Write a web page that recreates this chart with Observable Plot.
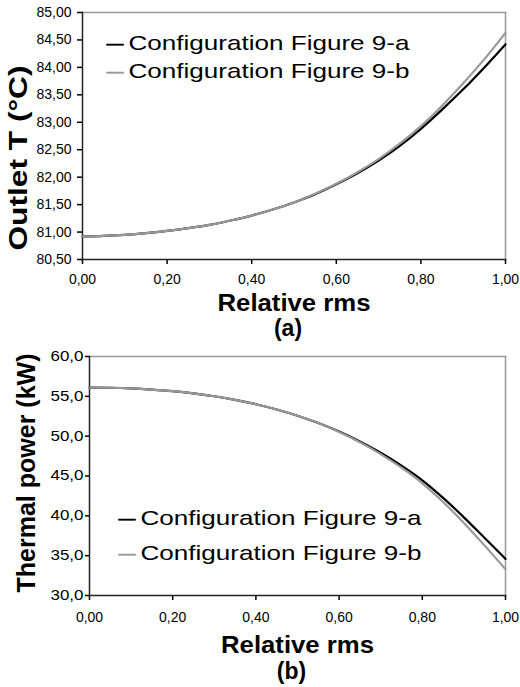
<!DOCTYPE html>
<html>
<head>
<meta charset="utf-8">
<script src="https://cdn.jsdelivr.net/npm/d3@7"></script>
<script src="https://cdn.jsdelivr.net/npm/@observablehq/plot@0.6"></script>
<style>
  html, body { margin: 0; padding: 0; background: #fff; }
  #chart { width: 520px; }
  svg { display: block; }
</style>
</head>
<body>
<div id="chart"></div>
<script>
// ---- data ----
const rms = [0, 0.05, 0.1, 0.15, 0.2, 0.25, 0.3, 0.35, 0.4, 0.45, 0.5, 0.55, 0.6, 0.65, 0.7, 0.75, 0.8, 0.85, 0.9, 0.95, 1.0];
const outletA = [80.92, 80.93, 80.95, 80.98, 81.02, 81.07, 81.13, 81.21, 81.30, 81.41, 81.54, 81.69, 81.87, 82.07, 82.30, 82.57, 82.88, 83.23, 83.60, 84.00, 84.42];
const outletB = [80.92, 80.93, 80.95, 80.98, 81.02, 81.07, 81.13, 81.21, 81.30, 81.41, 81.54, 81.70, 81.88, 82.09, 82.33, 82.61, 82.93, 83.30, 83.71, 84.15, 84.63];
const powerA = [56.10, 56.08, 56.00, 55.85, 55.65, 55.37, 55.01, 54.56, 54.01, 53.35, 52.57, 51.65, 50.58, 49.34, 47.92, 46.30, 44.46, 42.26, 39.81, 37.21, 34.60];
const powerB = [56.10, 56.08, 56.00, 55.85, 55.65, 55.37, 55.01, 54.56, 54.01, 53.35, 52.57, 51.65, 50.53, 49.24, 47.75, 46.04, 44.08, 41.74, 39.11, 36.26, 33.30];
const seriesNames = ["Configuration Figure 9-a", "Configuration Figure 9-b"];
const rmsTicks = [0, 0.2, 0.4, 0.6, 0.8, 1.0];
const outletTicks = [80.5, 81, 81.5, 82, 82.5, 83, 83.5, 84, 84.5, 85];
const powerTicks = [30, 35, 40, 45, 50, 55, 60];
const xTitle = "Relative rms";
const yTitleTop = "Outlet T (°C)";
const yTitleBottom = "Thermal power (kW)";
const panelLabels = ["(a)", "(b)"];

// ---- helpers ----
const comma = (f) => (d) => f(d).replace(".", ",");
const fmt2 = comma(d3.format(".2f"));
const fmt1 = comma(d3.format(".1f"));
const seriesColors = ["#000000", "#999999"];
const FONT = "Arial, 'Liberation Sans', sans-serif";

function toRows(ys, name) { return rms.map((x, i) => ({x, y: ys[i], name})); }

const container = document.getElementById("chart");

const chartTop = Plot.plot({
  width: 520, height: 345, marginLeft: 82, marginRight: 15, marginTop: 12, marginBottom: 86,
  style: {fontFamily: FONT, fontSize: "14px", color: "#000", background: "#fff", overflow: "visible"},
  x: {domain: [0, 1]},
  y: {domain: [80.5, 85]},
  marks: [
    Plot.frame({anchor: "top", stroke: "#999", strokeWidth: 1.5}),
    Plot.frame({anchor: "right", stroke: "#999", strokeWidth: 1.5}),
    Plot.axisX({ticks: rmsTicks, tickFormat: fmt2, tickSize: 5, tickPadding: 10, label: null, fontSize: 14, strokeWidth: 1.5}),
    Plot.axisY({ticks: outletTicks, tickFormat: fmt2, tickSize: 5, tickPadding: 6, label: null, fontSize: 14, strokeWidth: 1.5}),
    Plot.frame({anchor: "left", stroke: "#222", strokeWidth: 1.5}),
    Plot.frame({anchor: "bottom", stroke: "#222", strokeWidth: 1.5}),
    Plot.line(toRows(outletA, seriesNames[0]), {x: "x", y: "y", stroke: seriesColors[0], strokeWidth: 2.2, curve: "monotone-x"}),
    Plot.line(toRows(outletB, seriesNames[1]), {x: "x", y: "y", stroke: seriesColors[1], strokeWidth: 2.2, curve: "monotone-x"}),
    Plot.text([xTitle], {text: d => d, frameAnchor: "bottom", dy: 44, lineAnchor: "middle", fontSize: 23, fontWeight: "bold"}),
    Plot.text([panelLabels[0]], {text: d => d, frameAnchor: "bottom", dx: -6, dy: 69, lineAnchor: "middle", fontSize: 23, fontWeight: "bold"}),
    Plot.text([yTitleTop], {text: d => d, frameAnchor: "left", dx: -64, dy: 22, rotate: -90, lineAnchor: "middle", textAnchor: "middle", fontSize: 25, fontWeight: "bold"}),
    // legend
    Plot.text([seriesNames[0]], {text: () => "\u2014", frameAnchor: "top-left", dx: 32.5, dy: 31, lineAnchor: "middle", textAnchor: "middle", fill: seriesColors[0], stroke: seriesColors[0], strokeWidth: 0.6, fontSize: 17}),
    Plot.text([seriesNames[1]], {text: () => "\u2014", frameAnchor: "top-left", dx: 32.5, dy: 59, lineAnchor: "middle", textAnchor: "middle", fill: seriesColors[1], stroke: seriesColors[1], strokeWidth: 0.6, fontSize: 17}),
    Plot.text([seriesNames[0]], {text: d => d, frameAnchor: "top-left", dx: 46, dy: 31, lineAnchor: "middle", textAnchor: "start", fontSize: 21}),
    Plot.text([seriesNames[1]], {text: d => d, frameAnchor: "top-left", dx: 46, dy: 59, lineAnchor: "middle", textAnchor: "start", fontSize: 21})
  ]
});

const chartBottom = Plot.plot({
  width: 520, height: 342, marginLeft: 89, marginRight: 15, marginTop: 11, marginBottom: 92,
  style: {fontFamily: FONT, fontSize: "14px", color: "#000", background: "#fff", overflow: "visible"},
  x: {domain: [0, 1]},
  y: {domain: [30, 60]},
  marks: [
    Plot.frame({anchor: "top", stroke: "#999", strokeWidth: 1.5}),
    Plot.frame({anchor: "right", stroke: "#999", strokeWidth: 1.5}),
    Plot.axisX({ticks: rmsTicks, tickFormat: fmt2, tickSize: 5, tickPadding: 12, label: null, fontSize: 14, strokeWidth: 1.5}),
    Plot.axisY({ticks: powerTicks, tickFormat: fmt1, tickSize: 4, tickPadding: 2, label: null, fontSize: 14, strokeWidth: 1.5}),
    Plot.frame({anchor: "left", stroke: "#222", strokeWidth: 1.5}),
    Plot.frame({anchor: "bottom", stroke: "#222", strokeWidth: 1.5}),
    Plot.line(toRows(powerA, seriesNames[0]), {x: "x", y: "y", stroke: seriesColors[0], strokeWidth: 2.2, curve: "monotone-x"}),
    Plot.line(toRows(powerB, seriesNames[1]), {x: "x", y: "y", stroke: seriesColors[1], strokeWidth: 2.2, curve: "monotone-x"}),
    Plot.text([xTitle], {text: d => d, frameAnchor: "bottom", dy: 50, lineAnchor: "middle", fontSize: 23, fontWeight: "bold"}),
    Plot.text([panelLabels[1]], {text: d => d, frameAnchor: "bottom", dx: -6, dy: 76, lineAnchor: "middle", fontSize: 23, fontWeight: "bold"}),
    Plot.text([yTitleBottom], {text: d => d, frameAnchor: "left", dx: -63, dy: -3, rotate: -90, lineAnchor: "middle", textAnchor: "middle", fontSize: 25, fontWeight: "bold"}),
    // legend
    Plot.text([seriesNames[0]], {text: () => "\u2014", frameAnchor: "top-left", dx: 37.5, dy: 162, lineAnchor: "middle", textAnchor: "middle", fill: seriesColors[0], stroke: seriesColors[0], strokeWidth: 0.6, fontSize: 17}),
    Plot.text([seriesNames[1]], {text: () => "\u2014", frameAnchor: "top-left", dx: 37.5, dy: 197, lineAnchor: "middle", textAnchor: "middle", fill: seriesColors[1], stroke: seriesColors[1], strokeWidth: 0.6, fontSize: 17}),
    Plot.text([seriesNames[0]], {text: d => d, frameAnchor: "top-left", dx: 51, dy: 162, lineAnchor: "middle", textAnchor: "start", fontSize: 21}),
    Plot.text([seriesNames[1]], {text: d => d, frameAnchor: "top-left", dx: 51, dy: 197, lineAnchor: "middle", textAnchor: "start", fontSize: 21})
  ]
});

container.appendChild(chartTop);
container.appendChild(chartBottom);

// widen texts that are drawn horizontally stretched in the reference
function stretch(svg, match, len) {
  svg.querySelectorAll("text").forEach(t => {
    if (match(t.textContent)) {
      t.setAttribute("textLength", len);
      t.setAttribute("lengthAdjust", "spacingAndGlyphs");
    }
  });
}
for (const svg of [chartTop, chartBottom]) {
  stretch(svg, s => seriesNames.includes(s), 281);
  stretch(svg, s => s === xTitle, 153);
}
stretch(chartTop, s => s === yTitleTop, 185);
stretch(chartBottom, s => powerTicks.map(fmt1).includes(s), 33);
</script>
</body>
</html>
